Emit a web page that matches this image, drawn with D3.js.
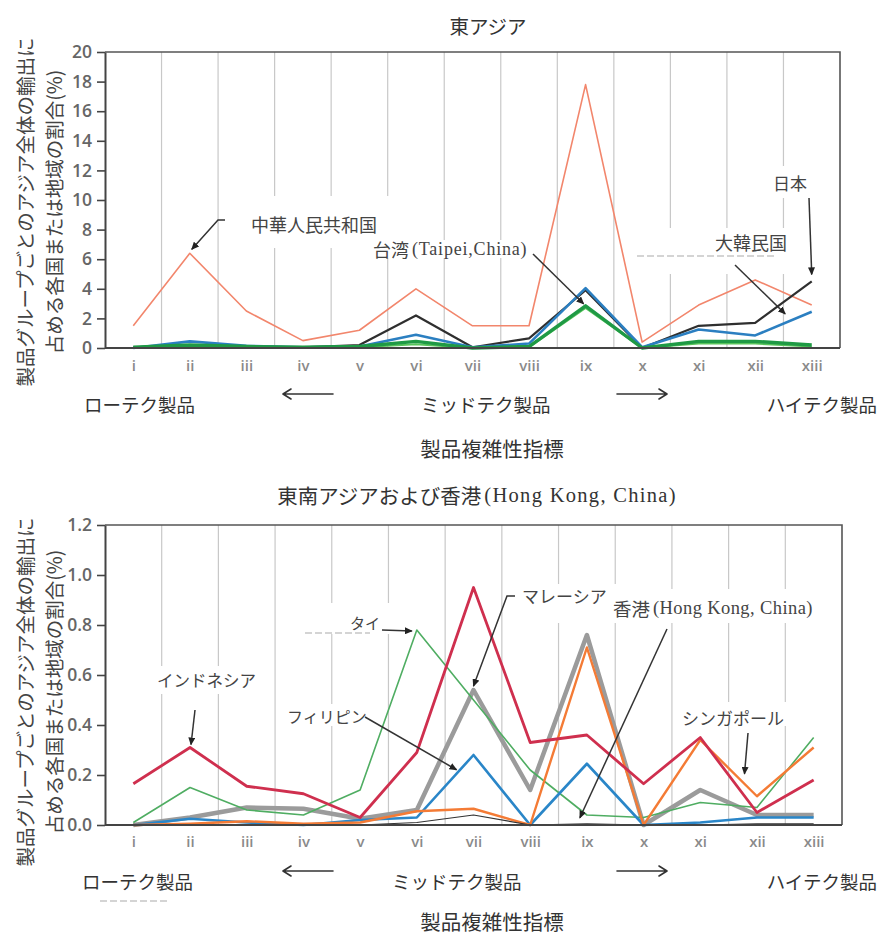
<!DOCTYPE html>
<html>
<head>
<meta charset="utf-8">
<script src="https://cdn.jsdelivr.net/npm/d3@7"></script>
<style>
  body { margin: 0; background: #fff; }
  svg { display: block; }
</style>
</head>
<body>
<svg id="chart" width="878" height="936"></svg>
<script>
// Product complexity groups (low-tech -> high-tech)
const categories = ["i", "ii", "iii", "iv", "v", "vi", "vii", "viii", "ix", "x", "xi", "xii", "xiii"];

// Y-axis ticks for each panel
const eastTicks = [0, 2, 4, 6, 8, 10, 12, 14, 16, 18, 20];
const southEastTicks = [0, 0.2, 0.4, 0.6, 0.8, 1.0, 1.2];

// East Asia: share of Asia-wide exports by product group (%)
const chinaShare   = [1.5, 6.4, 2.5, 0.5, 1.2, 4.0, 1.5, 1.5, 17.8, 0.4, 2.9, 4.6, 2.9];
const japanShare   = [0.05, 0.1, 0.1, 0.05, 0.2, 2.2, 0.05, 0.65, 3.9, 0.0, 1.5, 1.7, 4.5];
const koreaShare   = [0.0, 0.45, 0.15, 0.05, 0.1, 0.9, 0.05, 0.3, 4.05, 0.05, 1.25, 0.85, 2.45];
const otherEastShare = [0.0, 0.1, 0.05, 0.0, 0.05, 0.25, 0.0, 0.05, 2.7, 0.0, 0.3, 0.3, 0.1];
const taiwanShare  = [0.05, 0.2, 0.1, 0.05, 0.1, 0.45, 0.0, 0.1, 2.85, 0.0, 0.45, 0.45, 0.2];

// Southeast Asia and Hong Kong: share of Asia-wide exports by product group (%)
const malaysiaShare    = [0.0, 0.03, 0.07, 0.065, 0.025, 0.06, 0.54, 0.14, 0.76, 0.0, 0.14, 0.04, 0.04];
const thailandShare    = [0.01, 0.15, 0.06, 0.04, 0.14, 0.78, 0.5, 0.22, 0.04, 0.03, 0.09, 0.07, 0.35];
const philippinesShare = [0.0, 0.025, 0.01, 0.0, 0.02, 0.03, 0.28, 0.0, 0.245, 0.0, 0.01, 0.03, 0.03];
const singaporeShare   = [0.0, 0.005, 0.015, 0.005, 0.01, 0.055, 0.065, 0.0, 0.71, 0.0, 0.34, 0.115, 0.31];
const indonesiaShare   = [0.165, 0.31, 0.155, 0.125, 0.03, 0.29, 0.95, 0.33, 0.36, 0.165, 0.35, 0.05, 0.18];
const hongKongShare    = [0.0, 0.0, 0.0, 0.0, 0.0, 0.01, 0.04, 0.0, 0.005, 0.0, 0.0, 0.005, 0.005];

const JP = "'Noto Sans CJK JP', 'Noto Sans', sans-serif";
const SERIF = "'Liberation Serif', 'Noto Sans CJK JP', serif";
const NUM = "'Open Sans', 'Noto Sans', sans-serif";

const svg = d3.select("#chart");

// arrowhead marker for the callouts
svg.append("defs").append("marker")
  .attr("id", "arrow")
  .attr("markerUnits", "userSpaceOnUse")
  .attr("markerWidth", 8).attr("markerHeight", 7)
  .attr("refX", 7).attr("refY", 3.5)
  .attr("orient", "auto")
  .append("path").attr("d", "M0,0 L8,3.5 L0,7 Z").attr("fill", "#222");

// text made of a CJK part and a Latin part in a serif face
function mixedText(sel, cjk, latin, cjkSize, latinSize, spacing) {
  sel.append("tspan").attr("font-family", JP).attr("font-size", cjkSize).text(cjk);
  sel.append("tspan").attr("font-family", SERIF).attr("font-size", latinSize)
    .attr("letter-spacing", spacing || 0)
    .attr("dx", 3).text(latin);
}

function drawPanel(cfg) {
  const g = svg.append("g");
  const x = d3.scalePoint().domain(categories).range([cfg.x0, cfg.x1]).padding(0.5);
  const y = d3.scaleLinear().domain([0, cfg.max]).range([cfg.yBottom, cfg.yTop]);
  const step = x.step();

  // vertical separators between product groups
  g.append("g").selectAll("line")
    .data(categories.slice(1))
    .join("line")
    .attr("x1", d => x(d) - step / 2).attr("x2", d => x(d) - step / 2)
    .attr("y1", cfg.yTop).attr("y2", cfg.yBottom)
    .attr("stroke", "#c8c8c8").attr("stroke-width", 1.2);

  // white label boxes that sit over the separators
  g.append("g").selectAll("rect")
    .data(cfg.boxes)
    .join("rect")
    .attr("x", d => d[0]).attr("y", d => d[1])
    .attr("width", d => d[2]).attr("height", d => d[3])
    .attr("fill", "#fff");

  // series lines
  const line = d3.line().x((d, i) => x(categories[i])).y(d => y(d));
  cfg.series.forEach(s => {
    g.append("path")
      .datum(s.values)
      .attr("d", line)
      .attr("fill", "none")
      .attr("stroke", s.color)
      .attr("stroke-width", s.width)
      .attr("stroke-linejoin", "round");
  });

  // frame: top and right edges
  g.append("path")
    .attr("d", `M${cfg.x0},${cfg.yTop}H${cfg.x1}V${cfg.yBottom}`)
    .attr("fill", "none").attr("stroke", "#555").attr("stroke-width", 1.6);

  // left axis
  const yAxis = g.append("g")
    .attr("transform", `translate(${cfg.x0},0)`)
    .call(d3.axisLeft(y).tickValues(cfg.ticks).tickSize(8).tickPadding(5)
      .tickFormat(cfg.format).tickSizeOuter(0));
  yAxis.select(".domain").attr("stroke", "#444").attr("stroke-width", 2);
  yAxis.selectAll(".tick line").attr("stroke", "#444").attr("stroke-width", 1.6);
  yAxis.selectAll(".tick text")
    .attr("font-family", NUM).attr("font-size", 17.5).attr("font-weight", 600)
    .attr("fill", "#666");

  // bottom axis
  const xAxis = g.append("g")
    .attr("transform", `translate(0,${cfg.yBottom})`)
    .call(d3.axisBottom(x).tickSize(0).tickPadding(cfg.xPad));
  xAxis.select(".domain").attr("stroke", "#444").attr("stroke-width", 2)
    .attr("d", `M${cfg.x0},0H${cfg.x1}`);
  xAxis.selectAll(".tick text")
    .attr("font-family", NUM).attr("font-size", 15).attr("font-weight", 600)
    .attr("fill", "#8a8a8a");

  // title
  const title = g.append("text")
    .attr("x", cfg.titleX).attr("y", cfg.titleY)
    .attr("text-anchor", "middle").attr("dominant-baseline", "central")
    .attr("fill", "#333");
  if (cfg.titleLatin) mixedText(title, cfg.title, cfg.titleLatin, 20.5, 20.5, 1.3);
  else title.attr("font-family", JP).attr("font-size", 19.5).text(cfg.title);

  // y-axis title (two rotated lines)
  const yl = [
    { text: "製品グループごとのアジア全体の輸出に", x: 24 },
    { text: "占める各国または地域の割合(%)", x: 53 }
  ];
  yl.forEach(l => {
    g.append("text")
      .attr("transform", `translate(${l.x},${cfg.yLabelY}) rotate(-90)`)
      .attr("text-anchor", "middle").attr("dominant-baseline", "central")
      .attr("font-family", JP).attr("font-size", 19.5).attr("fill", "#444")
      .text(l.text);
  });

  // product-tech captions under the axis
  const capY = cfg.capY;
  const caps = [
    { text: "ローテク製品", x: cfg.lowX, anchor: "start" },
    { text: "ミッドテク製品", x: cfg.midX, anchor: "start" },
    { text: "ハイテク製品", x: 877, anchor: "end" }
  ];
  caps.forEach(c => {
    g.append("text")
      .attr("x", c.x).attr("y", capY)
      .attr("text-anchor", c.anchor).attr("dominant-baseline", "central")
      .attr("font-family", JP).attr("font-size", 18.5).attr("fill", "#333")
      .text(c.text);
  });

  // direction arrows between the captions
  const ay = capY - 10;
  const arrows = [
    `M333,${ay}H283 M291,${ay - 5}L283,${ay}L291,${ay + 5}`,
    `M617,${ay}H667 M659,${ay - 5}L667,${ay}L659,${ay + 5}`
  ];
  arrows.forEach(d => {
    g.append("path").attr("d", d)
      .attr("fill", "none").attr("stroke", "#333").attr("stroke-width", 1.6)
      .attr("stroke-linecap", "round").attr("stroke-linejoin", "round");
  });

  g.append("text")
    .attr("x", 492).attr("y", cfg.axisTitleY)
    .attr("text-anchor", "middle").attr("dominant-baseline", "central")
    .attr("font-family", JP).attr("font-size", 20.5).attr("fill", "#333")
    .text("製品複雑性指標");

  // point along a series between category i and i+1
  const along = (vals, i, t, dy) => {
    const px = x(categories[i]) + t * step;
    const next = vals[i + 1] !== undefined ? vals[i + 1] : vals[i];
    const v = vals[i] + t * (next - vals[i]);
    return [px, y(v) + (dy || 0)];
  };

  // callout labels
  cfg.labels.forEach(l => {
    const t = g.append("text")
      .attr("x", l.x).attr("y", l.y)
      .attr("dominant-baseline", "central")
      .attr("fill", "#444");
    if (l.latin) mixedText(t, l.text, l.latin, l.size, l.latinSize, l.spacing);
    else t.attr("font-family", JP).attr("font-size", l.size).text(l.text);
    const tip = along(l.series, l.i, l.t, l.dy);
    const pts = l.from.concat([[tip[0] + (l.dx || 0), tip[1]]]);
    g.append("path")
      .attr("d", d3.line()(pts))
      .attr("fill", "none").attr("stroke", "#333").attr("stroke-width", 1.5)
      .attr("marker-end", "url(#arrow)");
  });

  // faint leftover dashed strokes
  (cfg.dashes || []).forEach(d => {
    g.append("line")
      .attr("x1", d[0]).attr("x2", d[1]).attr("y1", d[2]).attr("y2", d[2])
      .attr("stroke", "#aaa").attr("stroke-width", 1.2)
      .attr("stroke-dasharray", "7,3");
  });
}

drawPanel({
  title: "東アジア", titleX: 488, titleY: 25,
  x0: 105, x1: 840, yTop: 52, yBottom: 348, max: 20,
  ticks: eastTicks, format: d3.format("d"), xPad: 12,
  yLabelY: 212, capY: 404, lowX: 84, midX: 421, axisTitleY: 448,
  series: [
    { values: chinaShare, color: "#f2866c", width: 1.6 },
    { values: japanShare, color: "#2f2f2f", width: 2.2 },
    { values: koreaShare, color: "#2b7fc1", width: 2.6 },
    { values: otherEastShare, color: "#57c45a", width: 2 },
    { values: taiwanShare, color: "#1f9a45", width: 3.4 }
  ],
  boxes: [
    [240, 196, 150, 52],
    [368, 240, 168, 18],
    [766, 166, 48, 32],
    [636, 228, 165, 46]
  ],
  labels: [
    { text: "中華人民共和国", x: 251, y: 224, size: 18,
      from: [[225, 220], [218, 220]], series: chinaShare, i: 1, t: 0, dy: -4, dx: 2 },
    { text: "台湾", latin: "(Taipei,China)", x: 373, y: 249, size: 18, latinSize: 18, spacing: 0.8,
      from: [[533, 254]], series: taiwanShare, i: 8, t: 0, dy: -2, dx: -2 },
    { text: "日本", x: 773, y: 182, size: 17,
      from: [[809, 198]], series: japanShare, i: 12, t: 0, dy: -7, dx: 0 },
    { text: "大韓民国", x: 715, y: 242, size: 18,
      from: [[735, 265]], series: koreaShare, i: 11, t: 0.53, dy: -9 }
  ],
  dashes: [[637, 777, 256]]
});

drawPanel({
  title: "東南アジアおよび香港", titleLatin: "(Hong Kong, China)", titleX: 477, titleY: 495,
  x0: 105, x1: 842, yTop: 525, yBottom: 825, max: 1.2,
  ticks: southEastTicks, format: d3.format(".1f"), xPad: 11,
  yLabelY: 692, capY: 881, lowX: 82, midX: 392, axisTitleY: 921,
  series: [
    { values: malaysiaShare, color: "#9b9b9b", width: 4.5 },
    { values: thailandShare, color: "#4fad62", width: 1.6 },
    { values: philippinesShare, color: "#2a86c8", width: 2.6 },
    { values: singaporeShare, color: "#f47b35", width: 2.4 },
    { values: indonesiaShare, color: "#cf2f4e", width: 2.8 },
    { values: hongKongShare, color: "#333", width: 1.2 }
  ],
  boxes: [
    [298, 603, 112, 31],
    [150, 666, 115, 28],
    [282, 704, 88, 22],
    [504, 584, 112, 22],
    [545, 589, 282, 34],
    [676, 702, 118, 24]
  ],
  labels: [
    { text: "タイ", x: 350, y: 622, size: 15,
      from: [[382, 630]], series: thailandShare, i: 5, t: 0, dy: 1, dx: -5 },
    { text: "インドネシア", x: 157, y: 680, size: 16.5,
      from: [[195, 710]], series: indonesiaShare, i: 1, t: 0, dy: -3, dx: 1 },
    { text: "フィリピン", x: 287, y: 716, size: 16,
      from: [[365, 717]], series: philippinesShare, i: 5, t: 0.7, dy: -4 },
    { text: "マレーシア", x: 522, y: 595, size: 17,
      from: [[515, 596], [507, 596]], series: malaysiaShare, i: 6, t: 0, dy: -4 },
    { text: "香港", latin: "(Hong Kong, China)", x: 613, y: 608, size: 18.5, latinSize: 18.5, spacing: 0.4,
      from: [[667, 629]], series: hongKongShare, i: 8, t: 0, dy: -6, dx: -7 },
    { text: "シンガポール", x: 682, y: 717, size: 17,
      from: [[748, 733]], series: singaporeShare, i: 10, t: 0.78, dy: -10 }
  ],
  dashes: [[305, 370, 633], [100, 167, 901]]
});
</script>
</body>
</html>
